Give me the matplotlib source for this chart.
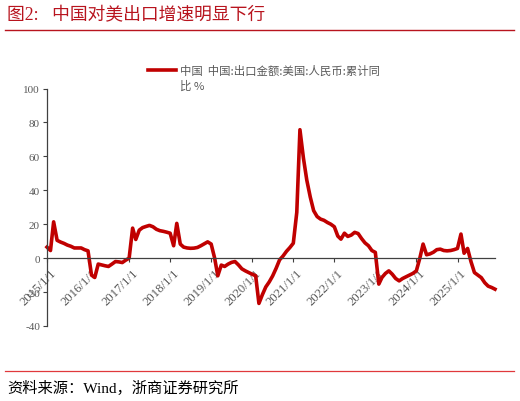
import matplotlib
matplotlib.use("Agg")
import matplotlib.pyplot as plt
from matplotlib.lines import Line2D
import matplotlib.transforms as mtransforms
import pandas as pd

# ---- data (cumulative YoY %, month-end) ----
start_month = "2014-12-31"
yoy = [
    6.5,
    4.5, 21.4, 10.5, 9.5, 8.7, 7.7, 7.0, 6.0, 6.0, 6.0, 5.0, 4.3,            # 2015
    -10.0, -11.4, -3.5, -4.0, -4.5, -4.9, -3.5, -2.0, -2.2, -2.6, -1.2, 0.0,  # 2016
    17.7, 11.0, 16.5, 18.0, 18.7, 19.3, 18.5, 17.0, 16.2, 15.8, 15.3, 14.7,   # 2017
    7.3, 20.5, 8.3, 6.5, 6.0, 5.8, 5.9, 6.3, 7.3, 8.5, 9.6, 8.3,              # 2018
    0.0, -10.4, -4.1, -4.9, -3.5, -2.5, -2.0, -4.0, -6.3, -7.5, -8.5, -9.5,   # 2019
    -10.4, -26.7, -21.5, -17.0, -14.0, -10.5, -6.0, -1.0, 1.2, 4.0, 6.2, 8.8, # 2020
    27.0, 75.7, 59.0, 46.0, 36.0, 28.0, 24.5, 23.0, 22.3, 21.0, 20.0, 18.5,   # 2021
    13.0, 11.2, 14.7, 12.8, 13.6, 15.2, 14.5, 11.5, 9.0, 7.3, 4.5, 3.4,       # 2022
    -15.3, -11.4, -9.0, -7.5, -9.5, -12.0, -13.4, -12.0, -11.0, -10.0, -9.0, -7.5,  # 2023
    0.0, 8.3, 2.0, 2.5, 3.5, 5.0, 5.3, 4.5, 4.3, 4.5, 5.0, 5.7,               # 2024
    14.2, 2.9, 5.7, -2.0, -8.5, -10.0, -11.5, -14.5, -16.5, -17.3, -18.3,     # 2025
]
tick_years = list(range(2015, 2026))
tick_labels = [f"{y}/1/1" for y in tick_years]
y_ticks = [-40, -20, 0, 20, 40, 60, 80, 100]
series_label = "中国  中国:出口金额:美国:人民币:累计同"
series_label2 = "比 %"
title_text = "图2:   中国对美出口增速明显下行"
source_text = "资料来源：Wind，浙商证券研究所"

dates = pd.date_range(start_month, periods=len(yoy), freq="ME")

RED = "#C00000"
GRAY = "#595959"
AX = "#404040"
CJK = ["Liberation Serif", "Noto Sans CJK SC", "DejaVu Sans"]

fig = plt.figure(figsize=(5.2, 4.02), dpi=100)
W, H = 520, 402

def fx(px):
    return px / W

def fy(py):
    return 1 - py / H

ax = fig.add_axes([fx(47), fy(327), fx(495) - fx(47), fy(89.5) - fy(327)])
ax.plot(dates, yoy, color=RED, lw=2.6, solid_joinstyle="round", clip_on=False)

for s in ["top", "right"]:
    ax.spines[s].set_visible(False)
ax.spines["bottom"].set_position(("data", 0))
ax.spines["left"].set_color(AX)
ax.spines["left"].set_linewidth(0.9)
ax.spines["bottom"].set_color(AX)
ax.spines["bottom"].set_linewidth(0.9)

ax.set_xlim(dates[0], dates[-1])
ax.set_ylim(-40, 100)
ax.set_yticks(y_ticks)
ax.set_yticklabels([str(v) for v in y_ticks])
ticks = [pd.Timestamp(f"{y}-01-01") for y in tick_years]
ax.set_xticks(ticks)
ax.set_xticklabels(tick_labels)
ax.tick_params(axis="y", direction="out", length=3, width=0.8, color=AX, pad=2,
               labelsize=8, labelcolor=GRAY, labelfontfamily="Liberation Serif")
ax.tick_params(axis="x", direction="out", length=3, width=0.8, color=AX, pad=3,
               labelsize=9.2, labelcolor=GRAY, labelfontfamily="Liberation Serif",
               labelrotation=45)
shift = mtransforms.ScaledTranslation(3 / 100, 0, fig.dpi_scale_trans)
for lab in ax.get_xticklabels():
    lab.set_ha("right")
    lab.set_va("top")
    lab.set_rotation_mode("anchor")
    lab.set_transform(lab.get_transform() + shift)

# title and rules
fig.text(fx(7), fy(16), title_text, family=CJK, fontsize=12.8, color="#B8141E",
         ha="left", va="center")
fig.add_artist(Line2D([fx(5), fx(514)], [fy(31), fy(31)], color="#B8141E", lw=1.0))
fig.add_artist(Line2D([fx(5), fx(514)], [fy(371.5), fy(371.5)], color="#E0383C", lw=0.9))
fig.text(fx(7), fy(388), source_text, family=CJK, fontsize=11, color="black",
         ha="left", va="center")

# legend
fig.add_artist(Line2D([fx(148), fx(176)], [fy(71), fy(71)], color=RED, lw=2.6))
fig.text(fx(180), fy(71), series_label, family=["Noto Sans CJK SC", "DejaVu Sans"],
         fontsize=8.2, color=GRAY, ha="left", va="center")
fig.text(fx(180), fy(86), series_label2, family=["Noto Sans CJK SC", "DejaVu Sans"],
         fontsize=8.2, color=GRAY, ha="left", va="center")

fig.savefig("out.png", dpi=100)
